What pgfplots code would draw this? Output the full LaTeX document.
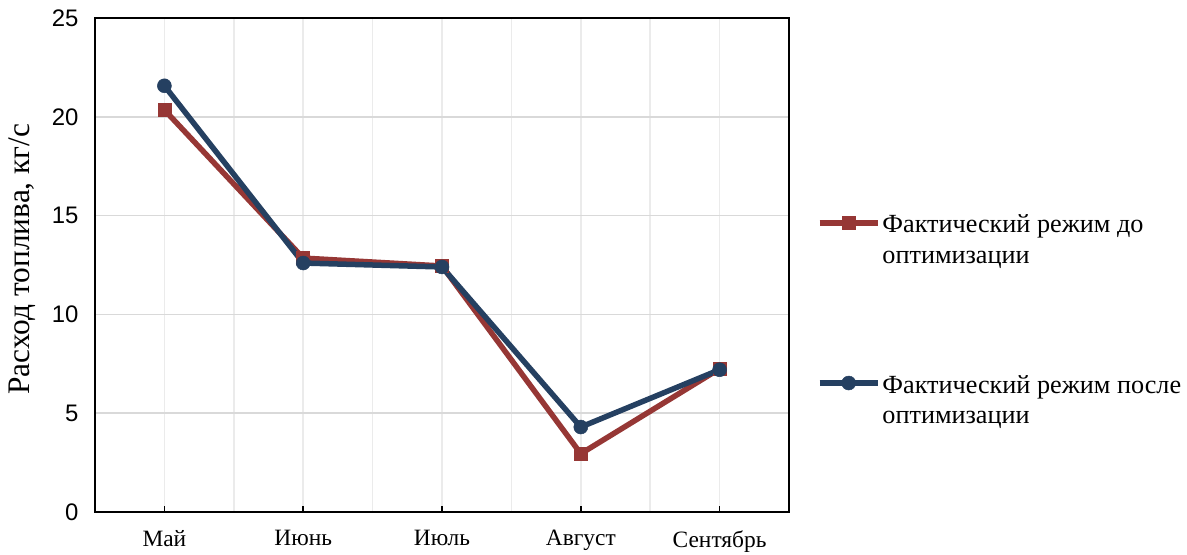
\documentclass[border=0pt]{standalone}
\usepackage{fontspec}
\setmainfont{Liberation Serif}
\newfontfamily\arialf{Liberation Sans}
\usepackage{pgfplots}
\pgfplotsset{compat=1.18}
\definecolor{cred}{HTML}{963735}
\definecolor{cblue}{HTML}{254061}
\definecolor{hgrid}{HTML}{D9D9D9}
\definecolor{vgrid}{HTML}{EBEBEB}
\begin{document}
\begin{tikzpicture}
\useasboundingbox (-95bp,-43bp) rectangle (1092bp,512bp);
\begin{axis}[
  at={(0,0)}, anchor=south west,
  scale only axis, width=694bp, height=494bp,
  xmin=-0.5, xmax=4.5, ymin=0, ymax=25,
  xtick={0,1,2,3,4},
  xticklabels={Май,Июнь,Июль,Август,Сентябрь},
  minor xtick={-0.5,0.5,1.5,2.5,3.5,4.5},
  ytick={0,5,10,15,20,25},
  /pgf/number format/assume math mode=true,
  xmajorgrids, xminorgrids, ymajorgrids,
  x grid style={draw=vgrid, line width=1.5bp},
  minor x grid style={draw=vgrid, line width=1.5bp},
  y grid style={draw=hgrid, line width=1.5bp},
  axis line style={line width=1.5bp, black},
  tick align=inside,
  xtick pos=bottom,
  major x tick style={line width=1.5bp, black},
  major tick length=6bp,
  minor tick length=0bp,
  ytick style={draw=none},
  yticklabel style={font=\arialf\fontsize{24}{24}\selectfont, xshift=-13bp},
  xticklabel style={font=\fontsize{23.5}{23.5}\selectfont, yshift=-15bp},
  ylabel={Расход топлива, кг/с},
  ylabel style={font=\fontsize{31.5}{31.5}\selectfont, at={(axis description cs:-0.105,0.512)}, anchor=center, rotate=0},
  legend style={draw=none, fill=none, at={(axis description cs:1.04,0.613)}, anchor=north west,
    font=\fontsize{26.3}{31}\selectfont, row sep=133bp, inner sep=0pt},
  legend cell align=left,
  legend image code/.code={\draw[mark repeat=2,mark phase=2] plot coordinates {(0bp,0bp) (29bp,0bp) (58bp,0bp)};},
  clip=false,
]
\addplot[cred, line width=5.5bp, mark=square*, mark size=6.5bp, mark options={line width=0.5bp, solid}]
  coordinates {(0,20.35) (1,12.85) (2,12.45) (3,2.95) (4,7.25)};
\addlegendentry{\begin{tabular}[t]{@{}l@{}}Фактический режим до\\оптимизации\end{tabular}}
\addplot[cblue, line width=5.5bp, mark=*, mark size=7bp, mark options={line width=0.5bp, solid}]
  coordinates {(0,21.57) (1,12.6) (2,12.4) (3,4.3) (4,7.2)};
\addlegendentry{\begin{tabular}[t]{@{}l@{}}Фактический режим после\\оптимизации\end{tabular}}
\end{axis}
\end{tikzpicture}
\end{document}
